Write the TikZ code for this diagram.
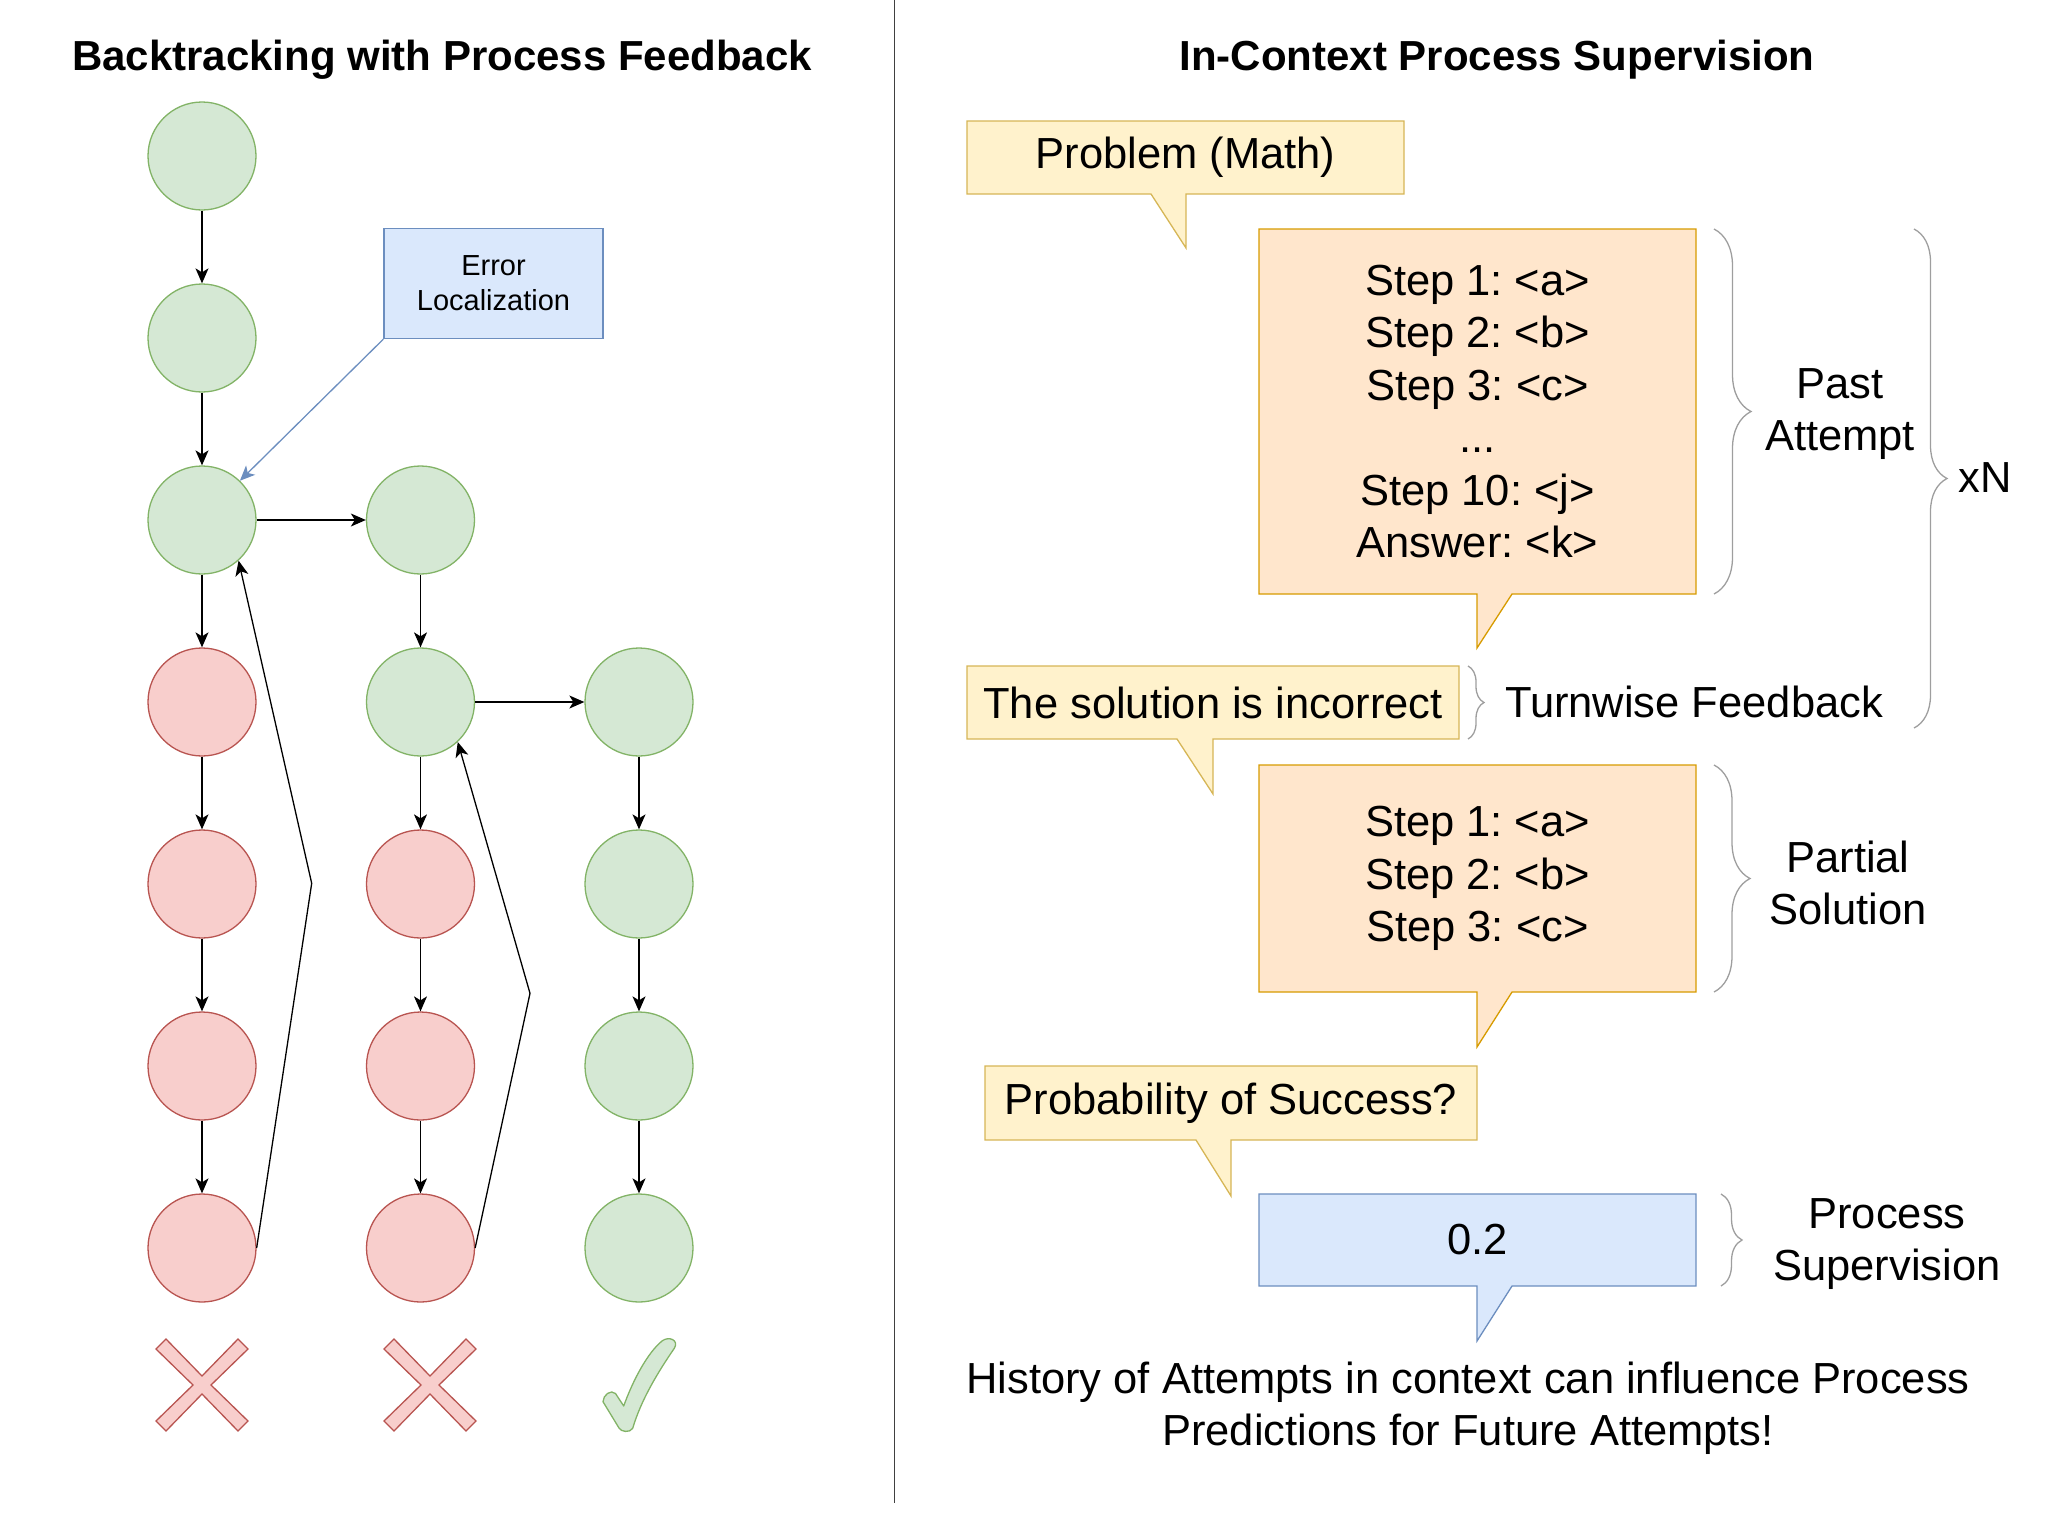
\documentclass[tikz,border=0pt]{standalone}
\usepackage{fontspec}
\setmainfont{Liberation Sans}
\usepackage{tikz}
\usetikzlibrary{arrows.meta,decorations.pathreplacing,backgrounds}
\frenchspacing

\begin{document}
\begin{tikzpicture}[x=1pt,y=-1pt,
  >={Stealth[length=15pt,width=13pt,inset=4pt]},
  good/.style={circle,draw=okLine,fill=okFill,line width=1.3pt,minimum size=108pt,inner sep=0pt},
  wrong/.style={circle,draw=badLine,fill=badFill,line width=1.3pt,minimum size=108pt,inner sep=0pt},
  link/.style={->,line width=1.3pt},
  heading/.style={anchor=base,font=\fontsize{42}{50}\selectfont\bfseries},
  big/.style={font=\fontsize{43.5}{52.5}\selectfont,align=center,inner sep=0pt},
  box/.style={big,minimum width=437pt,outer sep=0pt},
  tag/.style={draw=infoLine,fill=infoFill,line width=1.3pt,minimum width=219pt,minimum height=110pt,
    align=center,inner sep=0pt,font=\fontsize{29}{35}\selectfont},
  bubble/.style={line width=1.3pt,line join=miter},
  curly/.style={draw=braceLine,line width=1.3pt,decorate},
  cross/.style={draw=badLine,fill=badFill,line width=1.3pt,line join=miter},
  tick/.style={draw=okLine,fill=okFill,line width=1.3pt,line join=round}]
\definecolor{okFill}{HTML}{D5E8D4}
\definecolor{okLine}{HTML}{82B366}
\definecolor{badFill}{HTML}{F8CECC}
\definecolor{badLine}{HTML}{B85450}
\definecolor{infoFill}{HTML}{DAE8FC}
\definecolor{infoLine}{HTML}{6C8EBF}
\definecolor{noteFill}{HTML}{FFF2CC}
\definecolor{noteLine}{HTML}{D6B656}
\definecolor{stepFill}{HTML}{FFE6CC}
\definecolor{stepLine}{HTML}{D79B00}
\definecolor{braceLine}{HTML}{9E9E9E}
\useasboundingbox (0,0) rectangle (2048,1526);

% left panel: search tree
\node[heading] (leftTitle) at (442,70) {Backtracking with Process Feedback};
\foreach \r/\y in {1/156,2/338,3/520}
  \node[good] (a\r) at (202,\y) {};
\foreach \r/\y in {4/702,5/884,6/1066,7/1248}
  \node[wrong] (a\r) at (202,\y) {};
\foreach \r/\y in {3/520,4/702}
  \node[good] (b\r) at (420.5,\y) {};
\foreach \r/\y in {5/884,6/1066,7/1248}
  \node[wrong] (b\r) at (420.5,\y) {};
\foreach \r/\y in {4/702,5/884,6/1066,7/1248}
  \node[good] (c\r) at (639,\y) {};

\foreach \i/\j in {1/2,2/3,3/4,4/5,5/6,6/7}
  \draw[link] (a\i) -- (a\j);
\foreach \i/\j in {3/4,4/5,5/6,6/7}
  \draw[link] (b\i) -- (b\j);
\foreach \i/\j in {4/5,5/6,6/7}
  \draw[link] (c\i) -- (c\j);
\draw[link] (a3) -- (b3);
\draw[link] (b4) -- (c4);

% backtracking
\coordinate (bendA) at (311.7,883.3);
\coordinate (bendB) at (530,993.3);
\draw[link] (a7.east) -- (bendA) -- (a3.-48);
\draw[link] (b7.east) -- (bendB) -- (b4.-47);

\node[tag] (errLoc) at (493.5,283.5) {Error\\Localization};
\draw[link,infoLine] (errLoc.south west) -- (a3.46);

% outcomes
\foreach \cx in {202,430}
  \filldraw[cross] (\cx-46,1349) -- (\cx-36,1339) -- (\cx,1376) -- (\cx+36,1339) -- (\cx+46,1349)
    -- (\cx+9,1385) -- (\cx+46,1421) -- (\cx+36,1431) -- (\cx,1394) -- (\cx-36,1431)
    -- (\cx-46,1421) -- (\cx-9,1385) -- cycle;
\filldraw[tick] (603,1401.7) .. controls (603,1395) and (611,1389) .. (615.5,1393.5)
  -- (623.7,1406) .. controls (633,1380) and (648,1352) .. (662.4,1340.7)
  .. controls (669,1336) and (679,1340) .. (674.5,1348)
  .. controls (658,1372) and (641,1400) .. (632.7,1428.3)
  .. controls (630,1433) and (621,1432) .. (619,1428) -- cycle;

\draw[line width=1.3pt,black!75] (894.5,0) -- (894.5,1503);

% right panel: context
\node[heading] (rightTitle) at (1497,70) {In-Context Process Supervision};
\node[box,minimum height=73pt] (problem) at (1185.5,157.5) {Problem (Math)};
\node[box,minimum height=365pt] (past) at (1477.5,411.5)
  {Step 1: <a>\\Step 2: <b>\\Step 3: <c>\\...\\Step 10: <j>\\Answer: <k>};
\node[box,minimum width=492pt,minimum height=73pt] (verdict) at (1213,702.5) {The solution is incorrect};
\node[box,minimum height=227pt] (partial) at (1477.5,878.5) {Step 1: <a>\\Step 2: <b>\\Step 3: <c>};
\node[box,minimum width=492pt,minimum height=74pt] (query) at (1231,1103) {Probability of Success?};
\node[box,minimum height=92pt] (score) at (1477.5,1240) {0.2};

\begin{scope}[on background layer]
  \draw[bubble,draw=noteLine,fill=noteFill] (problem.north west) -- (problem.north east) -- (problem.south east)
    -- (1186,194) -- (1186,248) -- (1151,194) -- (problem.south west) -- cycle;
  \draw[bubble,draw=stepLine,fill=stepFill] (past.north west) -- (past.north east) -- (past.south east)
    -- (1512,594) -- (1477,648) -- (1477,594) -- (past.south west) -- cycle;
  \draw[bubble,draw=noteLine,fill=noteFill] (verdict.north west) -- (verdict.north east) -- (verdict.south east)
    -- (1213,739) -- (1213,794) -- (1177,739) -- (verdict.south west) -- cycle;
  \draw[bubble,draw=stepLine,fill=stepFill] (partial.north west) -- (partial.north east) -- (partial.south east)
    -- (1512,992) -- (1477,1047) -- (1477,992) -- (partial.south west) -- cycle;
  \draw[bubble,draw=noteLine,fill=noteFill] (query.north west) -- (query.north east) -- (query.south east)
    -- (1231,1140) -- (1231,1196) -- (1196,1140) -- (query.south west) -- cycle;
  \draw[bubble,draw=infoLine,fill=infoFill] (score.north west) -- (score.north east) -- (score.south east)
    -- (1512,1286) -- (1477,1341) -- (1477,1286) -- (score.south west) -- cycle;
\end{scope}

% braces and their labels
\draw[curly,decoration={brace,amplitude=37pt}] ([xshift=18pt]past.north east) -- ([xshift=18pt]past.south east);
\draw[curly,decoration={brace,amplitude=33pt}] (1914,229) -- (1914,728);
\draw[curly,decoration={brace,amplitude=16pt}] ([xshift=9pt]verdict.north east) -- ([xshift=9pt]verdict.south east);
\draw[curly,decoration={brace,amplitude=36pt}] ([xshift=18pt]partial.north east) -- ([xshift=18pt]partial.south east);
\draw[curly,decoration={brace,amplitude=21pt}] ([xshift=25pt]score.north east) -- ([xshift=25pt]score.south east);

\node[big] (pastLbl) at (1840,414) {Past\\Attempt};
\node[big] (repeatLbl) at (1985,478) {xN};
\node[big] (turnLbl) at (1694,702) {Turnwise Feedback};
\node[big] (partLbl) at (1848,883) {Partial\\Solution};
\node[big] (procLbl) at (1887,1244) {Process\\Supervision};
\node[big] (historyLbl) at (1468,1408)
  {History of Attempts in context can influence Process\\Predictions for Future Attempts!};
\end{tikzpicture}
\end{document}
